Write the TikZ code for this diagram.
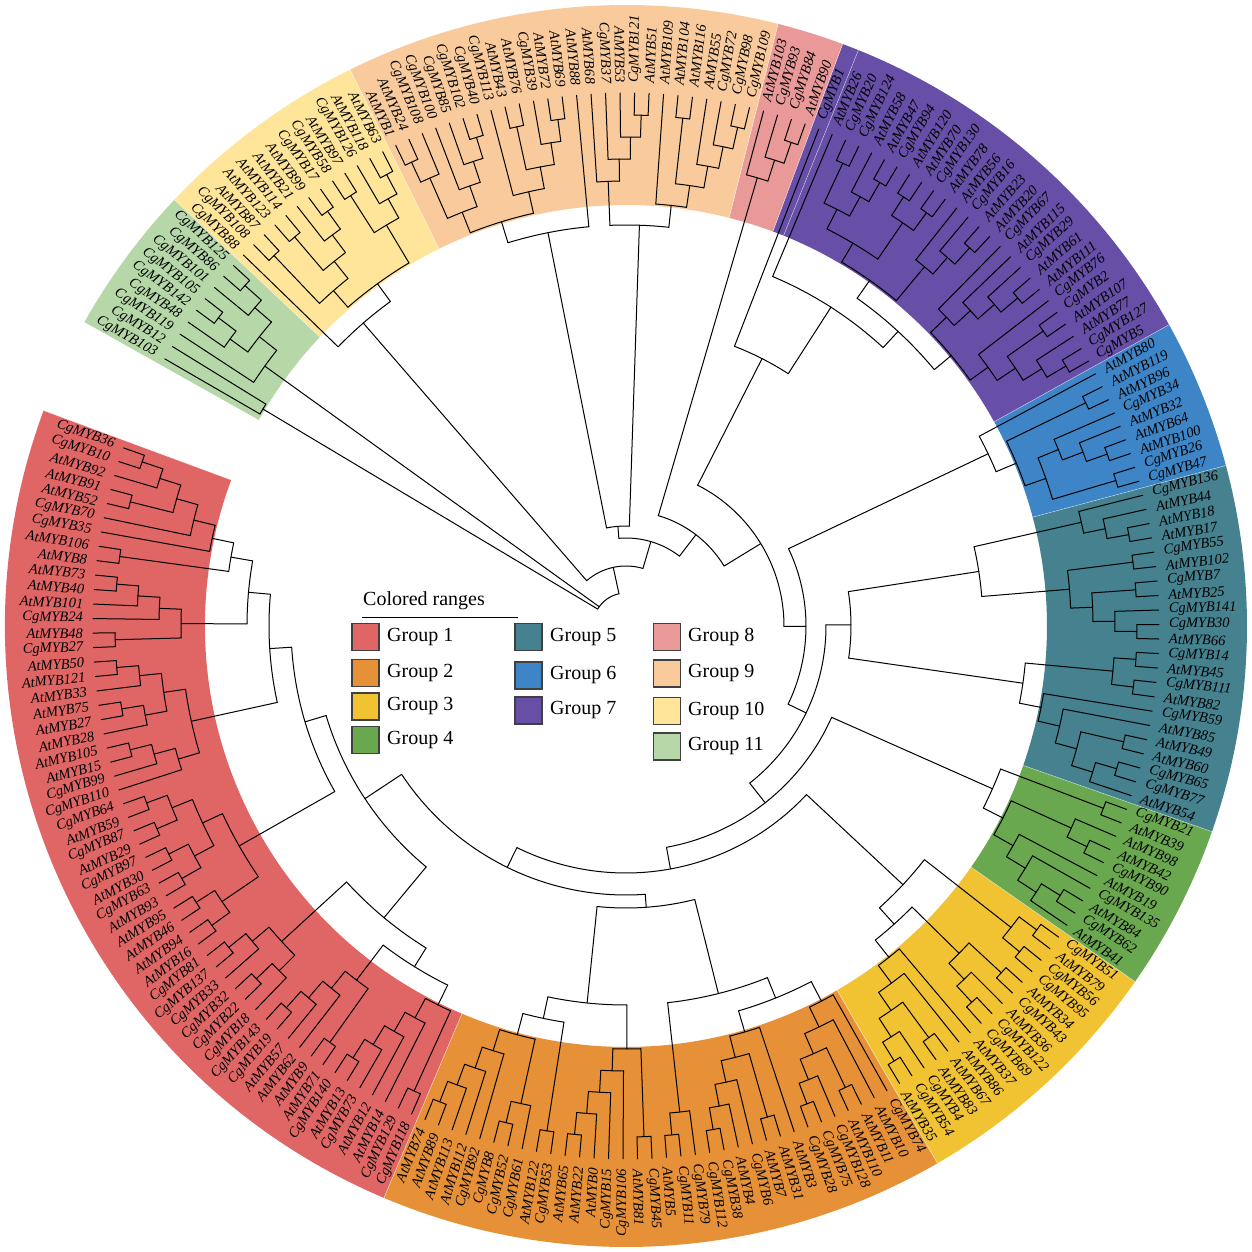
\documentclass[tikz,border=0pt]{standalone}
\usepackage{fontspec}
\setmainfont{Liberation Serif}
\definecolor{gA}{HTML}{E06666}
\definecolor{gB}{HTML}{E69138}
\definecolor{gC}{HTML}{F1C232}
\definecolor{gD}{HTML}{6AA84F}
\definecolor{gE}{HTML}{45818E}
\definecolor{gF}{HTML}{3D85C6}
\definecolor{gG}{HTML}{674EA7}
\definecolor{gH}{HTML}{EA9999}
\definecolor{gI}{HTML}{F9CB9C}
\definecolor{gJ}{HTML}{FFE599}
\definecolor{gK}{HTML}{B6D7A8}
\newcount\tstk
\newcount\tleaf
\newcount\tk
\newcount\tfirst
\newcount\tmax
\def\Astart{159.7}
\def\dang{1.56}
\def\Rtip{533}
\def\stp{22}
\def\Rlab{543}
\def\Rin{421}
\def\Rout{621}
\def\tL{%
  \global\advance\tstk by 1
  \pgfmathsetmacro\tmpa{\Astart+\dang*(\the\tleaf+0.5)}%
  \expandafter\xdef\csname tA\the\tstk\endcsname{\tmpa}%
  \expandafter\xdef\csname tH\the\tstk\endcsname{0}%
  \expandafter\xdef\csname tR\the\tstk\endcsname{\Rtip}%
  \global\advance\tleaf by 1
}
\def\tJ{\tJoin{2}{-1}}
\def\tJR#1{\tJoin{2}{#1}}
\def\tJoin#1#2{%
  \tfirst=\tstk \advance\tfirst by -#1 \advance\tfirst by 1
  \tmax=0
  \tk=\tfirst
  \loop
    \ifnum\csname tH\the\tk\endcsname>\tmax \tmax=\csname tH\the\tk\endcsname\relax\fi
  \ifnum\tk<\tstk \advance\tk by 1 \repeat
  \advance\tmax by 1
  \ifdim #2pt<0pt \pgfmathsetmacro\tnr{\Rtip-\stp*\the\tmax}\else\def\tnr{#2}\fi
  \tk=\tfirst
  \loop
    \edef\tca{\csname tA\the\tk\endcsname}%
    \edef\tcrad{\csname tR\the\tk\endcsname}%
    \draw[tree] (\tca:\tcrad pt) -- (\tca:\tnr pt);
  \ifnum\tk<\tstk \advance\tk by 1 \repeat
  \edef\tfa{\csname tA\the\tfirst\endcsname}%
  \edef\tla{\csname tA\the\tstk\endcsname}%
  \draw[tree] (\tfa:\tnr pt) arc[start angle=\tfa, end angle=\tla, radius=\tnr pt];
  \pgfmathsetmacro\tna{(\tfa+\tla)/2}%
  \global\tstk=\tfirst
  \expandafter\xdef\csname tA\the\tstk\endcsname{\tna}%
  \expandafter\xdef\csname tH\the\tstk\endcsname{\the\tmax}%
  \expandafter\xdef\csname tR\the\tstk\endcsname{\tnr}%
}
\def\sector#1#2#3{%
  \pgfmathsetmacro\sa{\Astart+\dang*#1}%
  \pgfmathsetmacro\sb{\Astart+\dang*#2}%
  \fill[#3] (\sa:\Rin pt) arc[start angle=\sa, end angle=\sb, radius=\Rin pt]
    -- (\sb:\Rout pt) arc[start angle=\sb, end angle=\sa, radius=\Rout pt] -- cycle;
  \draw[white, line width=0.5pt, opacity=0.6] (\sa:\Rin pt) -- (\sa:\Rout pt);
}
\begin{document}
\begin{tikzpicture}[x=1pt,y=1pt,
  tree/.style={line width=1pt, line cap=round, black},
  lab/.style={font=\fontsize{14.5}{16}\selectfont\itshape, inner sep=0pt},
  legbox/.style={draw=black!75, line width=1.2pt, minimum size=27pt, inner sep=0pt},
  legtxt/.style={anchor=west, font=\fontsize{20}{24}\selectfont, inner sep=0pt}]
\fill[white] (-626,-626) rectangle (626,626);
\useasboundingbox (-626,-626) rectangle (626,626);
% colored ranges
\sector{0}{56}{gA}
\sector{56}{90}{gB}
\sector{90}{106}{gC}
\sector{106}{116}{gD}
\sector{116}{138}{gE}
\sector{138}{147}{gF}
\sector{147}{172}{gG}
\sector{172}{173}{gG}
\sector{173}{177}{gH}
\sector{177}{203}{gI}
\sector{203}{216}{gJ}
\sector{216}{225}{gK}
% ---------- Group 1
\tL\tL\tJ\tL\tJ\tL\tL\tJ\tJ\tL\tJ\tL\tJ
\tL\tL\tJ\tJ
\tL\tL\tJ\tL\tJ\tL\tJ\tL\tL\tJ\tJ
\tJ
\tL\tL\tJ\tL\tJ\tL\tL\tJ\tL\tJ\tJ
\tL\tL\tJ\tL\tJ\tL\tJ
\tJ
\tJ
\tL\tL\tJ\tL\tL\tJ\tJ\tL\tL\tJ\tL\tL\tJ\tJ\tJ
\tL\tL\tJ\tL\tL\tJ\tJ
\tJ
\tJR{335}
\tL\tL\tJ\tL\tJ\tL\tL\tJ\tL\tJ\tJ
\tL\tL\tJ\tL\tJ\tL\tJ\tL\tL\tJ\tJ
\tL\tL\tJ\tL\tJ\tL\tJ\tL\tJ\tL\tL\tJ\tJ
\tJ\tJ
\tJR{313}
% ---------- Group 2
\tL\tL\tJ\tL\tJ\tL\tJ\tL\tJ
\tL\tL\tJ\tL\tJ
\tJ
\tL\tL\tJ
\tJ
\tL\tL\tJ\tL\tJ\tL\tJ\tL\tJ
\tL\tL\tJ
\tJ
\tJ
\tL\tL\tJ\tL\tJ
\tL\tL\tJ\tL\tJ\tL\tJ
\tL\tL\tJ
\tJ
\tL\tJ
\tL\tL\tJ\tL\tJ
\tL\tL\tJ
\tJ
\tL\tJ
\tL\tJ
\tJ
\tJ
\tJR{282}
\tJR{269}
% ---------- Group 3
\tL\tL\tJ\tL\tJ\tL\tL\tJ\tJ\tL\tJ\tL\tJ
\tL\tL\tJ\tL\tJ\tL\tL\tJ\tJ
\tJ
\tL\tL\tJ\tL\tL\tJ\tJ
\tJ
\tJR{247}
% ---------- Group 4
\tL\tL\tL\tJ\tJ\tL\tJ\tL\tJ
\tL\tL\tJ\tL\tJ
\tJ
\tL\tL\tJ
\tJ
\tJR{225}
% ---------- Group 5
\tL\tL\tL\tJ\tJ\tL\tL\tJ\tJ\tL\tJ\tL\tJ
\tL\tL\tJ\tL\tL\tJ\tJ
\tJ
\tL\tL\tJ\tL\tJ\tL\tL\tJ\tJ\tL\tL\tJ\tJ
\tL\tL\tJ\tL\tJ\tL\tJ
\tJR{357}
\tJR{225}
\tJR{200}
% ---------- Group 6
\tL\tL\tJ\tL\tL\tJ\tL\tJ\tL\tJ\tJ\tL\tL\tJ\tJ\tL\tJ
\tJR{180}
% ---------- Group 7
\tL\tL\tJ\tL\tJ\tL\tL\tJ\tJ\tL\tJ
\tL\tL\tJ\tL\tJ\tL\tJ\tL\tJ
\tJ
\tL\tL\tJ\tL\tJ\tL\tJ
\tL\tL\tJ\tL\tL\tJ\tJ
\tL\tL\tJ\tL\tJ\tL\tL\tJ\tJ
\tJ\tJ\tJ
\tL\tJ
\tL\tJR{300}
\tJR{158}
% ---------- Group 8
\tL\tL\tJ\tL\tJ\tL\tJ
\tJR{115}
% ---------- Group 9
\tL\tL\tJ\tL\tJ\tL\tJ\tL\tL\tJ\tJ\tL\tJ
\tL\tL\tJ\tL\tJ\tL\tJ\tL\tJ
\tJ
\tL
\tL\tL\tJ\tL\tJ\tL\tL\tJ\tJ\tL\tJ
\tL\tL\tJ\tL\tJ\tL\tJ\tL\tL\tL\tJ\tJ\tJ
\tJ\tJ\tJR{100}
\tJR{88}
% ---------- Group 10
\tL\tL\tJ\tL\tJ\tL\tL\tJ\tJ
\tL\tL\tJ\tL\tJ\tL\tL\tJ\tJ\tL\tL\tJ\tJ
\tJ\tL\tJ
\tJR{60}
% ---------- Group 11
\tL\tL\tJ\tL\tJ\tL\tL\tJ\tL\tJ\tJ\tL\tJ
\tL\tL\tJR{423}
\tJoin{3}{33}
% labels
\foreach \nm [count=\i from 0] in {CgMYB36,CgMYB10,AtMYB92,AtMYB91,AtMYB52,CgMYB70,CgMYB35,AtMYB106,AtMYB8,AtMYB73,AtMYB40,AtMYB101,CgMYB24,AtMYB48,CgMYB27,AtMYB50,AtMYB121,AtMYB33,AtMYB75,AtMYB27,AtMYB28,AtMYB105,AtMYB15,CgMYB99,CgMYB110,CgMYB64,AtMYB59,CgMYB87,AtMYB29,CgMYB97,AtMYB30,CgMYB63,AtMYB93,AtMYB95,AtMYB46,AtMYB94,AtMYB16,CgMYB81,CgMYB137,CgMYB33,CgMYB32,CgMYB22,CgMYB18,CgMYB143,CgMYB19,AtMYB57,AtMYB62,AtMYB9,AtMYB71,CgMYB140,AtMYB13,CgMYB73,AtMYB12,AtMYB14,CgMYB129,CgMYB118,
AtMYB74,AtMYB89,AtMYB113,AtMYB112,CgMYB92,CgMYB8,CgMYB52,CgMYB61,AtMYB122,CgMYB53,AtMYB65,AtMYB22,AtMYB0,CgMYB15,CgMYB106,AtMYB81,CgMYB45,AtMYB5,CgMYB11,CgMYB79,CgMYB112,CgMYB38,AtMYB4,CgMYB6,AtMYB7,AtMYB31,AtMYB3,CgMYB28,CgMYB75,CgMYB128,AtMYB110,AtMYB11,AtMYB10,CgMYB74,
AtMYB35,CgMYB54,CgMYB4,AtMYB83,AtMYB67,AtMYB86,AtMYB37,CgMYB69,CgMYB122,AtMYB36,CgMYB43,AtMYB34,CgMYB95,CgMYB56,AtMYB79,CgMYB51,
AtMYB41,CgMYB62,AtMYB84,CgMYB135,AtMYB19,CgMYB90,AtMYB42,AtMYB98,AtMYB39,CgMYB21,
AtMYB54,CgMYB77,CgMYB65,AtMYB60,AtMYB49,AtMYB85,CgMYB59,AtMYB82,CgMYB111,AtMYB45,CgMYB14,AtMYB66,CgMYB30,CgMYB141,AtMYB25,CgMYB7,AtMYB102,CgMYB55,AtMYB17,AtMYB18,AtMYB44,CgMYB136,
CgMYB47,CgMYB26,AtMYB100,AtMYB64,AtMYB32,CgMYB34,AtMYB96,AtMYB119,AtMYB80,
CgMYB5,CgMYB127,AtMYB77,AtMYB107,CgMYB2,CgMYB76,AtMYB111,AtMYB61,CgMYB29,AtMYB115,CgMYB67,AtMYB20,AtMYB23,CgMYB16,AtMYB56,AtMYB78,CgMYB130,AtMYB70,AtMYB120,CgMYB94,AtMYB47,AtMYB58,CgMYB124,CgMYB20,AtMYB26,CgMYB1,
AtMYB90,CgMYB84,CgMYB93,AtMYB103,
CgMYB109,CgMYB98,CgMYB72,AtMYB55,AtMYB116,AtMYB104,AtMYB109,AtMYB51,CgMYB121,AtMYB53,CgMYB37,AtMYB68,AtMYB88,AtMYB69,AtMYB72,CgMYB39,AtMYB76,AtMYB43,CgMYB113,CgMYB40,CgMYB102,CgMYB85,CgMYB100,CgMYB108,AtMYB24,AtMYB1,
AtMYB63,AtMYB118,CgMYB126,AtMYB97,CgMYB58,CgMYB17,AtMYB99,AtMYB21,AtMYB114,AtMYB123,AtMYB87,CgMYB108,CgMYB88,
CgMYB125,CgMYB86,CgMYB101,CgMYB105,CgMYB142,CgMYB48,CgMYB119,CgMYB12,CgMYB103}{%
  \pgfmathsetmacro\labang{\Astart+\dang*(\i+0.5)}%
  \pgfmathsetmacro\labn{mod(\labang,360)}%
  \pgfmathtruncatemacro\lside{(\labn>90)&&(\labn<270)}%
  \ifnum\lside=1
    \pgfmathsetmacro\lrot{\labn+180}%
    \node[lab,anchor=east,rotate=\lrot] (l\i) at (\labn:\Rlab pt) {\nm};
  \else
    \node[lab,anchor=west,rotate=\labn] (l\i) at (\labn:\Rlab pt) {\nm};
  \fi
}
% legend
\node[anchor=base west, font=\fontsize{20}{24}\selectfont, inner sep=0pt] (lgtitle) at (-263,20) {Colored ranges};
\coordinate (ulA) at (-264,8);
\coordinate (ulB) at (-108,8);
\draw[line width=1pt] (ulA) -- (ulB);
\node[legbox, fill=gA] (bx1) at (-260.5,-11) {};
\node[legbox, fill=gB] (bx2) at (-260.5,-47) {};
\node[legbox, fill=gC] (bx3) at (-260.5,-80.5) {};
\node[legbox, fill=gD] (bx4) at (-260.5,-114) {};
\node[legbox, fill=gE] (bx5) at (-97.5,-11) {};
\node[legbox, fill=gF] (bx6) at (-97.5,-49.5) {};
\node[legbox, fill=gG] (bx7) at (-97.5,-84.5) {};
\node[legbox, fill=gH] (bx8) at (41,-11) {};
\node[legbox, fill=gI] (bx9) at (41,-47.5) {};
\node[legbox, fill=gJ] (bx10) at (41,-85) {};
\node[legbox, fill=gK] (bx11) at (41,-120.5) {};
\node[legtxt] (tx1) at (-239,-11) {Group 1};
\node[legtxt] (tx2) at (-239,-47) {Group 2};
\node[legtxt] (tx3) at (-239,-80.5) {Group 3};
\node[legtxt] (tx4) at (-239,-114) {Group 4};
\node[legtxt] (tx5) at (-76,-11) {Group 5};
\node[legtxt] (tx6) at (-76,-49.5) {Group 6};
\node[legtxt] (tx7) at (-76,-84.5) {Group 7};
\node[legtxt] (tx8) at (62,-11) {Group 8};
\node[legtxt] (tx9) at (62,-47.5) {Group 9};
\node[legtxt] (tx10) at (62,-85) {Group 10};
\node[legtxt] (tx11) at (62,-120.5) {Group 11};
\end{tikzpicture}
\end{document}
